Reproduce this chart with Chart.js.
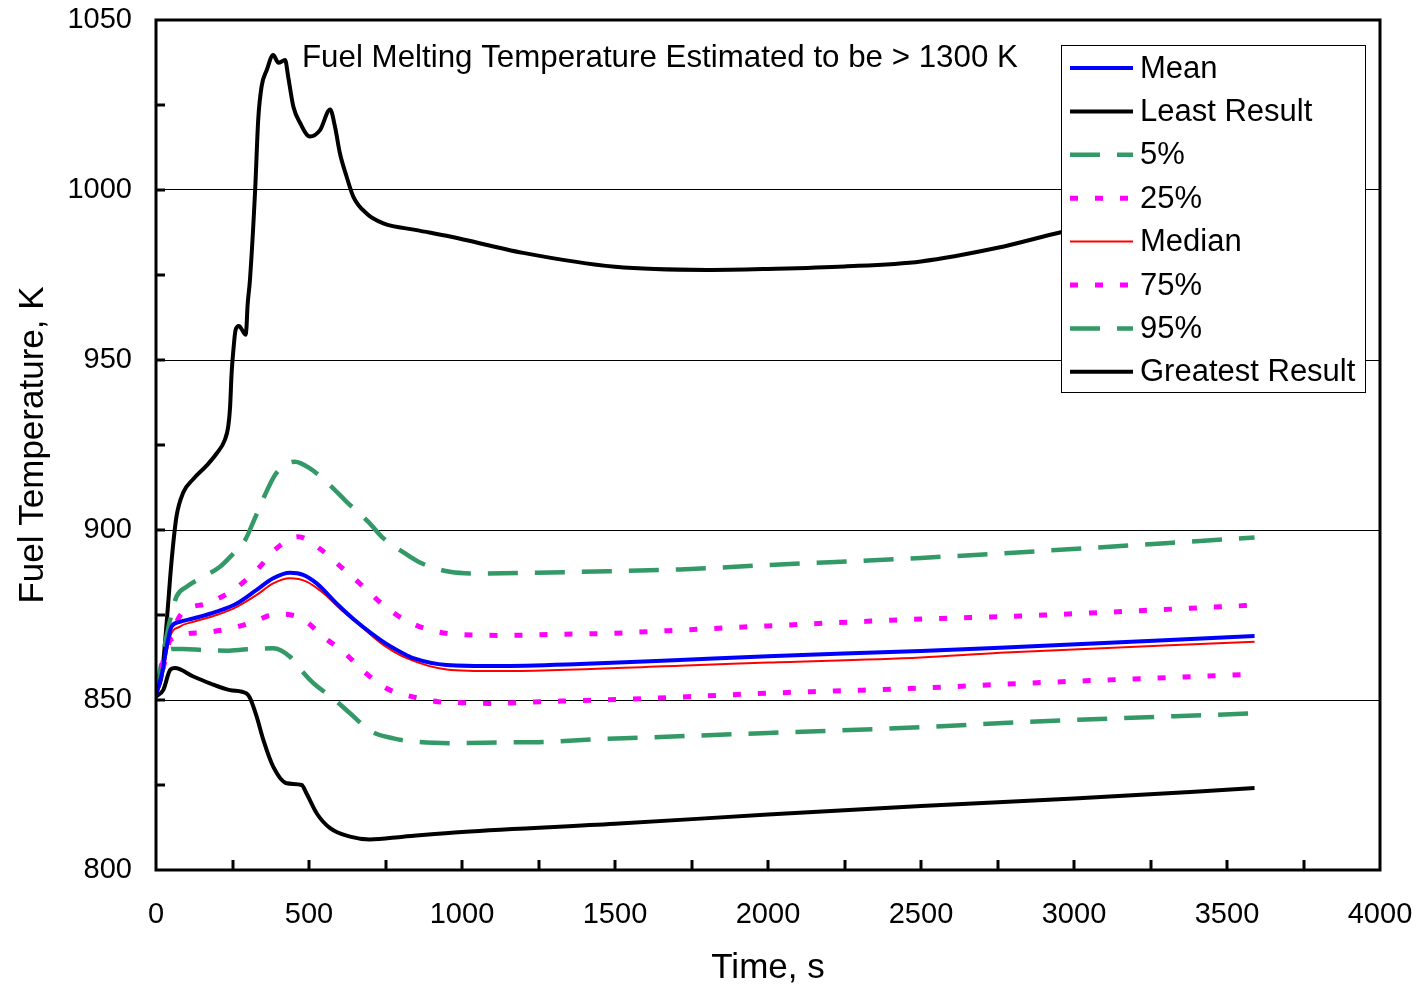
<!DOCTYPE html>
<html>
<head>
<meta charset="utf-8">
<title>Fuel Temperature</title>
<script src="https://cdn.jsdelivr.net/npm/chart.js@4/dist/chart.umd.min.js"></script>
<style>
    html, body { margin: 0; padding: 0; background: #fff; }
    #wrap { width: 1417px; height: 986px; position: relative; }
</style>
</head>
<body>
<div id="wrap"><canvas id="chart"></canvas></div>
<script>
// Dades llegides del gràfic (temps en s, temperatura en K)
const timeMean = [0, 20, 35, 51, 78, 122, 198, 264, 329, 383, 438, 481, 525, 590, 656, 743, 808, 841, 950, 1113, 1386, 1712, 2000, 2500, 2758, 3590];
const tempMean = [851.5, 858, 865.7, 871.6, 873, 874, 876, 878.4, 882.4, 885.8, 887.4, 886.8, 884.3, 878.4, 873, 867.1, 863.7, 862.3, 860.3, 860, 860.6, 861.8, 862.9, 864.4, 865.4, 868.8];

const timeLeast = [0, 24, 46, 62, 122, 176, 242, 296, 307, 329, 351, 383, 427, 476, 492, 525, 569, 634, 699, 808, 1000, 1500, 2000, 2500, 3000, 3590];
const tempLeast = [851, 853, 858.8, 859.4, 856.9, 854.9, 852.9, 851.9, 850.6, 845.1, 838.2, 830.4, 825.5, 825, 822.5, 816.7, 812.3, 809.8, 809, 809.8, 811.2, 813.6, 816.3, 818.8, 821, 824.1];

const time5 = [0, 25, 50, 89, 155, 231, 296, 383, 438, 460, 509, 585, 634, 705, 776, 852, 966, 1124, 1277, 1429, 1582, 2000, 2500, 2807, 3590];
const temp5 = [852, 860, 865, 865, 864.7, 864.5, 864.9, 865.2, 862.7, 860.3, 855.4, 850, 846.1, 840.7, 838.7, 837.7, 837.3, 837.5, 837.7, 838.4, 838.9, 840.3, 842, 843.4, 846.1];

const time25 = [0, 25, 46, 144, 231, 313, 394, 476, 547, 618, 683, 754, 836, 923, 1004, 1092, 1255, 1418, 1592, 2000, 2500, 2758, 3590];
const temp25 = [852, 860, 867.6, 869.8, 870.8, 872.8, 875.3, 874, 868.6, 863.7, 858.1, 853.4, 851, 849.5, 849.2, 849, 849.5, 849.9, 850.4, 852, 853.5, 854.6, 857.6];

const timeMedian = [0, 20, 46, 78, 122, 198, 264, 329, 383, 438, 492, 547, 612, 677, 743, 819, 950, 1113, 1712, 2000, 2500, 2758, 3590];
const tempMedian = [851.5, 857, 868.6, 871.6, 873, 875, 877.4, 880.9, 884.3, 885.8, 884.8, 881.4, 876, 871.1, 866.2, 862.3, 859, 858.5, 860.1, 861, 862.5, 863.9, 867.1];

const time75 = [0, 25, 46, 84, 166, 253, 329, 394, 465, 541, 610, 678, 743, 814, 895, 983, 1146, 1309, 1484, 1653, 2000, 2500, 2824, 3590];
const temp75 = [852, 862, 868, 875.5, 878.4, 882.4, 888.2, 894.6, 898, 894.1, 888.7, 883.3, 877.9, 873.5, 870.6, 869.3, 869, 869.3, 869.6, 870.3, 871.8, 873.8, 874.7, 877.9];

const time95 = [0, 20, 46, 67, 100, 149, 209, 253, 291, 318, 356, 389, 427, 454, 503, 574, 623, 694, 738, 814, 868, 961, 1059, 1222, 1386, 1712, 2000, 2500, 2758, 3590];
const temp95 = [852, 862, 873.5, 880.4, 883.3, 886, 889.2, 893.1, 897, 902.4, 910.3, 916.2, 919.4, 920.1, 918.1, 912.7, 908.3, 902.4, 898, 893.1, 890.2, 887.7, 887.2, 887.4, 887.7, 888.4, 889.7, 891.8, 893.1, 897.8];

const timeGreatest = [0, 20, 35, 51, 67, 89, 122, 166, 198, 225, 236, 242, 247, 253, 260, 271, 285, 293, 296, 299, 307, 324, 334, 345, 362, 383, 400, 422, 432, 449, 471, 503, 536, 569, 585, 601, 623, 645, 688, 743, 852, 961, 1200, 1500, 1800, 2000, 2250, 2500, 2750, 2954, 3300, 3590];
const tempGreatest = [852, 858, 873, 891, 904, 911, 915, 919, 922.5, 926.5, 930.4, 936, 946, 953, 958.8, 960, 958.3, 957.4, 960, 965.7, 973.5, 1000, 1020.6, 1030.4, 1035.3, 1039.7, 1037.4, 1038.2, 1033.3, 1024.5, 1019.7, 1015.7, 1017.6, 1023.7, 1018.6, 1010.8, 1003.9, 998, 993.1, 990.2, 988.2, 986.3, 981.5, 977.4, 976.5, 976.8, 977.5, 979, 983, 987.5, 994, 1000];

const seriesLabels = ['Mean', 'Least Result', '5%', '25%', 'Median', '75%', '95%', 'Greatest Result'];
const yTicks = [800, 850, 900, 950, 1000, 1050];
const xTicks = [0, 500, 1000, 1500, 2000, 2500, 3000, 3500, 4000];
const chartNote = 'Fuel Melting Temperature Estimated to be > 1300 K';

const FONT = "'Liberation Sans', Arial, sans-serif";

function toPoints(xs, ys) {
    return xs.map((x, i) => ({ x, y: ys[i] }));
}

function serie(label, xs, ys, color, width, dash) {
    return {
        label,
        data: toPoints(xs, ys),
        borderColor: color,
        backgroundColor: color,
        borderWidth: width,
        borderDash: dash || [],
        borderCapStyle: 'butt',
        pointRadius: 0,
        pointHoverRadius: 0,
        fill: false,
        cubicInterpolationMode: 'monotone'
    };
}

const GREEN = '#339966';
const MAGENTA = '#ff00ff';

const datasets = [
    serie(seriesLabels[0], timeMean, tempMean, '#0000ff', 4),
    serie(seriesLabels[1], timeLeast, tempLeast, '#000000', 4),
    serie(seriesLabels[2], time5, temp5, GREEN, 4.5, [30, 17]),
    serie(seriesLabels[3], time25, temp25, MAGENTA, 5, [8, 17]),
    serie(seriesLabels[4], timeMedian, tempMedian, '#ff0000', 2),
    serie(seriesLabels[5], time75, temp75, MAGENTA, 5, [8, 17]),
    serie(seriesLabels[6], time95, temp95, GREEN, 4.5, [30, 17]),
    serie(seriesLabels[7], timeGreatest, tempGreatest, '#000000', 4)
];

// Llegenda pròpia, dibuixada dins l'àrea del gràfic, per sobre de les línies
const legendBox = {
    id: 'legendBox',
    afterDatasetsDraw(chart) {
        const ctx = chart.ctx;
        const x0 = 1061, y0 = 45, w = 304, h = 347;
        ctx.save();
        ctx.fillStyle = '#fff';
        ctx.fillRect(x0, y0, w, h);
        ctx.strokeStyle = '#000';
        ctx.lineWidth = 1;
        ctx.strokeRect(x0 + 0.5, y0 + 0.5, w, h);
        ctx.font = '31px ' + FONT;
        ctx.textBaseline = 'middle';
        ctx.textAlign = 'left';
        chart.data.datasets.forEach((ds, i) => {
            const y = 68 + i * 43.4;
            ctx.beginPath();
            ctx.strokeStyle = ds.borderColor;
            ctx.lineWidth = ds.borderWidth;
            ctx.lineCap = 'butt';
            ctx.setLineDash(ds.borderDash);
            ctx.moveTo(1070, y);
            ctx.lineTo(1133, y);
            ctx.stroke();
            ctx.setLineDash([]);
            ctx.fillStyle = '#000';
            ctx.fillText(ds.label, 1140, y + 1);
        });
        ctx.font = '31.3px ' + FONT;
        ctx.fillText(chartNote, 302, 58);
        ctx.restore();
    }
};

// Marc gruixut i marques de divisió cap a dins
const frameTicks = {
    id: 'frameTicks',
    afterDraw(chart) {
        const ctx = chart.ctx;
        const a = chart.chartArea;
        const xs = chart.scales.x, ys = chart.scales.y;
        ctx.save();
        ctx.strokeStyle = '#000';
        ctx.lineWidth = 3;
        for (let v = 25; v < 1050 - 800; v += 25) {
            const y = Math.round(ys.getPixelForValue(800 + v));
            ctx.beginPath();
            ctx.moveTo(a.left, y);
            ctx.lineTo(a.left + 9, y);
            ctx.stroke();
        }
        for (let v = 250; v < 4000; v += 250) {
            const x = Math.round(xs.getPixelForValue(v));
            ctx.beginPath();
            ctx.moveTo(x, a.bottom);
            ctx.lineTo(x, a.bottom - 10);
            ctx.stroke();
        }
        ctx.strokeRect(a.left, a.top, a.right - a.left, a.bottom - a.top);
        ctx.restore();
    }
};

const ctx = document.getElementById('chart').getContext('2d');
const chart = new Chart(ctx, {
    type: 'line',
    data: { datasets },
    options: {
        responsive: true,
        maintainAspectRatio: false,
        animation: false,
        layout: { padding: { top: 20, right: 37, left: 0, bottom: 0 } },
        plugins: {
            legend: { display: false },
            tooltip: { enabled: false }
        },
        scales: {
            x: {
                type: 'linear',
                min: 0,
                max: 4000,
                afterFit: (scale) => {
                    scale.height = 116;
                    scale.paddingLeft = 0;
                    scale.paddingRight = 0;
                },
                afterBuildTicks: (scale) => { scale.ticks = xTicks.map(v => ({ value: v })); },
                grid: { display: false, drawTicks: false },
                border: { display: false },
                ticks: {
                    padding: 28,
                    color: '#000',
                    font: { family: FONT, size: 29 },
                    maxRotation: 0,
                    autoSkip: false,
                    callback: (v) => String(v)
                },
                title: {
                    display: true,
                    text: 'Time, s',
                    color: '#000',
                    font: { family: FONT, size: 35 },
                    padding: { top: 0, bottom: -3 }
                }
            },
            y: {
                min: 800,
                max: 1050,
                afterFit: (scale) => {
                    scale.width = 156;
                    scale.paddingTop = 0;
                    scale.paddingBottom = 0;
                },
                afterBuildTicks: (scale) => { scale.ticks = yTicks.map(v => ({ value: v })); },
                grid: {
                    drawTicks: false,
                    lineWidth: 1,
                    color: (c) => (c.tick && c.tick.value > 800 && c.tick.value < 1050) ? '#000' : 'rgba(0,0,0,0)'
                },
                border: { display: false },
                ticks: {
                    padding: 24,
                    color: '#000',
                    font: { family: FONT, size: 29 },
                    autoSkip: false,
                    callback: (v) => String(v)
                },
                title: {
                    display: true,
                    text: 'Fuel Temperature, K',
                    color: '#000',
                    font: { family: FONT, size: 35 },
                    padding: { top: 12, bottom: 0 }
                }
            }
        }
    },
    plugins: [legendBox, frameTicks]
});
</script>
</body>
</html>
